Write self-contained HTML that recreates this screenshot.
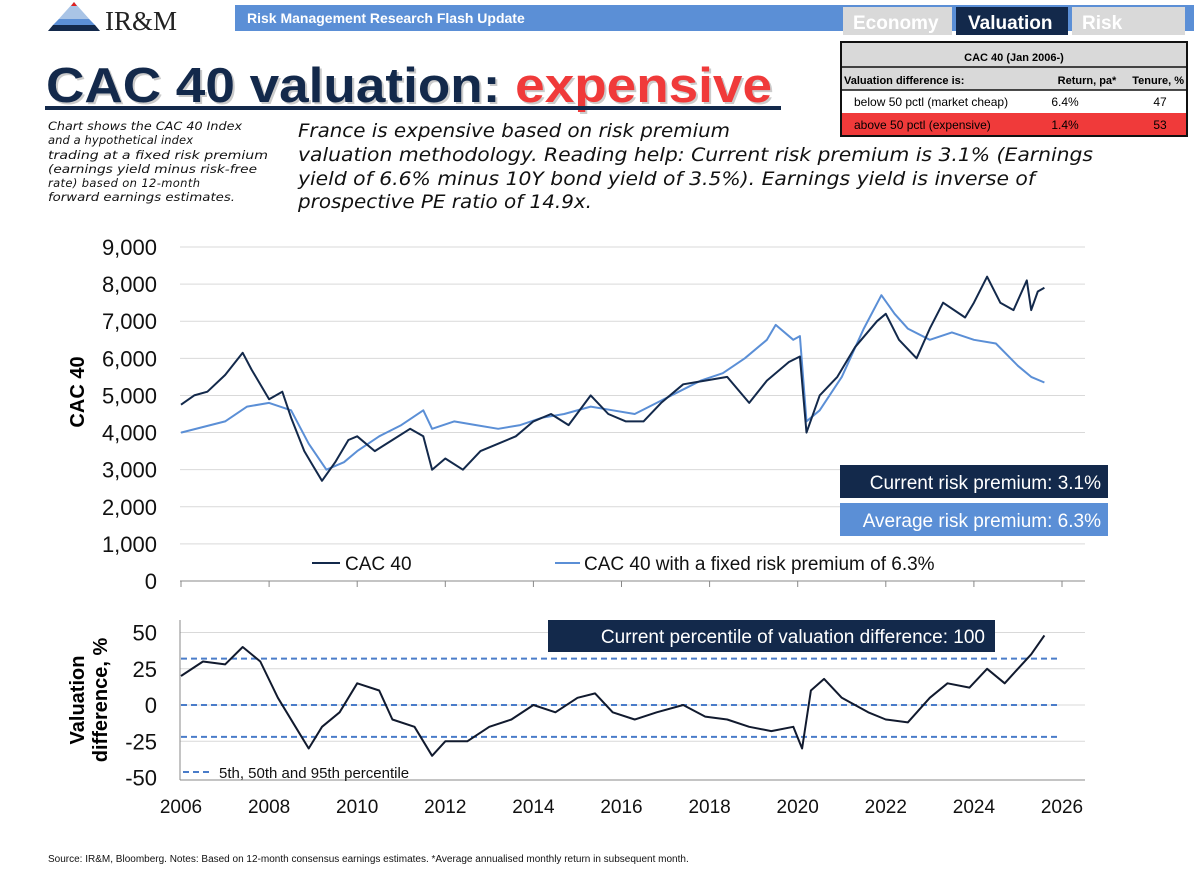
<!DOCTYPE html>
<html><head><meta charset="utf-8"><style>
html,body{margin:0;padding:0;background:#fff}
svg{display:block}
text{font-family:"Liberation Sans",sans-serif}
.hand{font-family:"DejaVu Sans",sans-serif}
</style></head><body>
<svg id="svg" width="1194" height="871" viewBox="0 0 1194 871" xmlns="http://www.w3.org/2000/svg">
<g>
<polygon points="48,31 74,2 100,31" fill="#a9c4e6"/>
<polygon points="71,6 74,2 77,6" fill="#e02020"/>
<polygon points="59,19 89,19 95,25 53,25" fill="#5b8fd6"/>
<polygon points="53,25 95,25 100,31 48,31" fill="#13294b"/>
<text x="105" y="30" style="font-family:'Liberation Serif',serif" font-size="27" fill="#222">IR&amp;M</text>
</g>
<rect x="235" y="5" width="959" height="26" fill="#5b8fd6"/>
<text x="247" y="23" font-size="14" font-weight="bold" fill="#fff">Risk Management Research Flash Update</text>
<rect x="843" y="7" width="109" height="28" fill="#d9d9d9"/>
<text x="853" y="29" font-size="19" font-weight="bold" fill="#fff">Economy</text>
<rect x="956" y="7" width="112" height="28" fill="#13294b"/>
<text x="968" y="29" font-size="19" font-weight="bold" fill="#fff">Valuation</text>
<rect x="1072" y="7" width="113" height="28" fill="#d9d9d9"/>
<text x="1082" y="29" font-size="19" font-weight="bold" fill="#fff">Risk</text>
<g>
<rect x="841" y="42" width="346" height="48" fill="#d9d9d9"/>
<rect x="841" y="90" width="346" height="23" fill="#fff"/>
<rect x="841" y="113" width="346" height="23" fill="#f03a3a"/>
<rect x="841" y="42" width="346" height="94" fill="none" stroke="#111" stroke-width="2"/>
<line x1="841" y1="67" x2="1187" y2="67" stroke="#111" stroke-width="1.5"/>
<line x1="841" y1="90" x2="1187" y2="90" stroke="#111" stroke-width="1.5"/>
<text x="1014" y="61" font-size="11" font-weight="bold" text-anchor="middle">CAC 40 (Jan 2006-)</text>
<text x="844" y="84" font-size="11" font-weight="bold">Valuation difference is:</text>
<text x="1087" y="84" font-size="11" font-weight="bold" text-anchor="middle">Return, pa*</text>
<text x="1184" y="84" font-size="11" font-weight="bold" text-anchor="end">Tenure, %</text>
<text x="854" y="106" font-size="12">below 50 pctl (market cheap)</text>
<text x="1065" y="106" font-size="12" text-anchor="middle">6.4%</text>
<text x="1160" y="106" font-size="12" text-anchor="middle">47</text>
<text x="854" y="129" font-size="12">above 50 pctl (expensive)</text>
<text x="1065" y="129" font-size="12" text-anchor="middle">1.4%</text>
<text x="1160" y="129" font-size="12" text-anchor="middle">53</text>
</g>
<text x="46" y="102" font-size="49" font-weight="bold" fill="#999" opacity="0.5" textLength="726" lengthAdjust="spacingAndGlyphs" transform="translate(2,2)">CAC 40 valuation: expensive</text>
<text x="46" y="102" font-size="49" font-weight="bold" textLength="726" lengthAdjust="spacingAndGlyphs"><tspan fill="#13294b">CAC 40 valuation: </tspan><tspan fill="#f03a3a">expensive</tspan></text>
<rect x="45" y="106" width="736" height="4" fill="#13294b"/>
<g font-size="11.5" fill="#111" font-style="italic">
<text class="hand" font-size="11.5" x="48" y="130" textLength="194" lengthAdjust="spacingAndGlyphs">Chart shows the CAC 40 Index</text>
<text class="hand" font-size="11.5" x="48" y="144" textLength="145" lengthAdjust="spacing">and a hypothetical index</text>
<text class="hand" font-size="11.5" x="48" y="159" textLength="220" lengthAdjust="spacingAndGlyphs">trading at a fixed risk premium</text>
<text class="hand" font-size="11.5" x="48" y="173" textLength="209" lengthAdjust="spacingAndGlyphs">(earnings yield minus risk-free</text>
<text class="hand" font-size="11.5" x="48" y="187" textLength="152" lengthAdjust="spacing">rate) based on 12-month</text>
<text class="hand" font-size="11.5" x="48" y="201" textLength="187" lengthAdjust="spacingAndGlyphs">forward earnings estimates.</text>
</g>
<g fill="#111" font-style="italic">
<text class="hand" x="298" y="137" font-size="19" textLength="432" lengthAdjust="spacingAndGlyphs">France is expensive based on risk premium</text>
<text class="hand" x="298" y="161" font-size="19" textLength="795" lengthAdjust="spacingAndGlyphs">valuation methodology. Reading help: Current risk premium is 3.1% (Earnings</text>
<text class="hand" x="298" y="185" font-size="19" textLength="737" lengthAdjust="spacingAndGlyphs">yield of 6.6% minus 10Y bond yield of 3.5%). Earnings yield is inverse of</text>
<text class="hand" x="298" y="208" font-size="19" textLength="294" lengthAdjust="spacingAndGlyphs">prospective PE ratio of 14.9x.</text>
</g>
<g id="topChart"></g>
<g id="botChart"></g>
<text x="48" y="862" font-size="10" fill="#111">Source: IR&amp;M, Bloomberg. Notes: Based on 12-month consensus earnings estimates. *Average annualised monthly return in subsequent month.</text>
</svg>
<script>
const cacDates=[2006.0,2006.3,2006.6,2007.0,2007.4,2007.6,2008.0,2008.3,2008.5,2008.8,2009.0,2009.2,2009.5,2009.8,2010.0,2010.4,2010.8,2011.2,2011.5,2011.7,2012.0,2012.4,2012.8,2013.2,2013.6,2014.0,2014.4,2014.8,2015.3,2015.7,2016.1,2016.5,2016.9,2017.4,2017.9,2018.4,2018.9,2019.3,2019.8,2020.05,2020.2,2020.5,2020.9,2021.3,2021.8,2022.0,2022.3,2022.7,2023.0,2023.3,2023.8,2024.0,2024.3,2024.6,2024.9,2025.2,2025.3,2025.45,2025.6];
const cacValues=[4750,5000,5100,5550,6150,5700,4900,5100,4400,3500,3100,2700,3200,3800,3900,3500,3800,4100,3900,3000,3300,3000,3500,3700,3900,4300,4500,4200,5000,4500,4300,4300,4800,5300,5400,5500,4800,5400,5900,6050,4000,5000,5500,6300,7000,7200,6500,6000,6800,7500,7100,7500,8200,7500,7300,8100,7300,7800,7900];
const fixDates=[2006.0,2007.0,2007.5,2008.0,2008.5,2008.9,2009.3,2009.7,2010.0,2010.5,2011.0,2011.5,2011.7,2012.2,2012.7,2013.2,2013.7,2014.2,2014.7,2015.3,2015.8,2016.3,2016.8,2017.3,2017.8,2018.3,2018.8,2019.3,2019.5,2019.9,2020.05,2020.2,2020.5,2021.0,2021.5,2021.9,2022.2,2022.5,2023.0,2023.5,2024.0,2024.5,2025.0,2025.3,2025.6];
const fixValues=[4000,4300,4700,4800,4600,3700,3000,3200,3500,3900,4200,4600,4100,4300,4200,4100,4200,4400,4500,4700,4600,4500,4800,5100,5400,5600,6000,6500,6900,6500,6600,4300,4600,5500,6800,7700,7200,6800,6500,6700,6500,6400,5800,5500,5350];
const diffDates=[2006.0,2006.5,2007.0,2007.4,2007.8,2008.2,2008.6,2008.9,2009.2,2009.6,2010.0,2010.5,2010.8,2011.3,2011.7,2012.0,2012.5,2013.0,2013.5,2014.0,2014.5,2015.0,2015.4,2015.8,2016.3,2016.8,2017.4,2017.9,2018.4,2018.9,2019.4,2019.9,2020.1,2020.3,2020.6,2021.0,2021.6,2022.0,2022.5,2023.0,2023.4,2023.9,2024.3,2024.7,2025.0,2025.3,2025.6];
const diffValues=[20,30,28,40,30,5,-15,-30,-15,-5,15,10,-10,-15,-35,-25,-25,-15,-10,0,-5,5,8,-5,-10,-5,0,-8,-10,-15,-18,-15,-30,10,18,5,-5,-10,-12,5,15,12,25,15,25,35,48];
const pctLines=[32,0,-22];
const topTicks=[0,1000,2000,3000,4000,5000,6000,7000,8000,9000];
const botTicks=[-50,-25,0,25,50];
const yearTicks=[2006,2008,2010,2012,2014,2016,2018,2020,2022,2024,2026];

const NS="http://www.w3.org/2000/svg";
const xS=y=>181+(y-2006)*44.05;
const yT=v=>581-v*(334/9000);
const yB=v=>705-v*1.45;
function mk(parent,tag,attrs,txt){const e=document.createElementNS(NS,tag);for(const k in attrs)e.setAttribute(k,attrs[k]);if(txt!==undefined)e.textContent=txt;parent.appendChild(e);return e;}
const gTop=document.getElementById('topChart'),gBot=document.getElementById('botChart');
let e;

topTicks.forEach(t=>{
 if(t>0){const g=mk(gTop,'line',{x1:180,x2:1085,y1:yT(t),y2:yT(t),stroke:'#d9d9d9','stroke-width':1});
 
 }
 const l=mk(gTop,'text',{x:157,y:yT(t)+8,'font-size':22,'text-anchor':'end',fill:'#111'},t.toLocaleString('en-US'));
 
 
});
e=mk(gTop,'line',{x1:180,x2:1085,y1:581,y2:581,stroke:'#888','stroke-width':1});


yearTicks.forEach(y=>{const t=mk(gTop,'line',{x1:xS(y),x2:xS(y),y1:581,y2:587,stroke:'#888'});

});
e=mk(gTop,'text',{x:0,y:0,'font-size':20,'font-weight':'bold','text-anchor':'middle',transform:'translate(84,392) rotate(-90)'},'CAC 40');



function path(parent,dates,vals,ys,color,name){
 const d=dates.map((x,i)=>(i?'L':'M')+xS(x).toFixed(1)+','+ys(vals[i]).toFixed(1)).join('');
 const p=mk(parent,'path',{d:d,fill:'none',stroke:color,'stroke-width':2,'stroke-linejoin':'round'});
 
 
}
path(gTop,fixDates,fixValues,yT,'#5b8fd6','fixed-risk-premium-line');
path(gTop,cacDates,cacValues,yT,'#13294b','cac40-line');

e=mk(gTop,'line',{x1:312,x2:340,y1:563,y2:563,stroke:'#13294b','stroke-width':2});


e=mk(gTop,'text',{x:345,y:570,'font-size':19,fill:'#111'},'CAC 40');


e=mk(gTop,'line',{x1:555,x2:580,y1:563,y2:563,stroke:'#5b8fd6','stroke-width':2});


e=mk(gTop,'text',{x:584,y:570,'font-size':19,fill:'#111'},'CAC 40 with a fixed risk premium of 6.3%');


e=mk(gTop,'rect',{x:840,y:465,width:268,height:33,fill:'#13294b'});


mk(gTop,'text',{x:1101,y:489,'font-size':19,fill:'#fff','text-anchor':'end'},'Current risk premium: 3.1%');
e=mk(gTop,'rect',{x:840,y:503,width:268,height:33,fill:'#5b8fd6'});


mk(gTop,'text',{x:1101,y:527,'font-size':19,fill:'#fff','text-anchor':'end'},'Average risk premium: 6.3%');

botTicks.forEach(t=>{
 if(t!==-50){const g=mk(gBot,'line',{x1:180,x2:1085,y1:yB(t),y2:yB(t),stroke:'#d9d9d9','stroke-width':1});
 
 }
 const l=mk(gBot,'text',{x:157,y:yB(t)+8,'font-size':22,'text-anchor':'end',fill:'#111'},String(t));
 
 
});
e=mk(gBot,'line',{x1:180,x2:180,y1:620,y2:780,stroke:'#888'});


e=mk(gBot,'line',{x1:180,x2:1085,y1:780,y2:780,stroke:'#888'});


yearTicks.forEach(y=>{
 const l=mk(gBot,'text',{x:xS(y),y:813,'font-size':19,'text-anchor':'middle',fill:'#111'},String(y));
 
 
});
pctLines.forEach(v=>{
 const l=mk(gBot,'line',{x1:181,x2:1058,y1:yB(v),y2:yB(v),stroke:'#4a7cc9','stroke-width':2,'stroke-dasharray':'6,4'});
 
 
});
path(gBot,diffDates,diffValues,yB,'#111a2e','valuation-difference-line');
e=mk(gBot,'text',{x:0,y:0,'font-size':20,'font-weight':'bold','text-anchor':'middle',transform:'translate(84,700) rotate(-90)'},'Valuation');


mk(gBot,'text',{x:0,y:0,'font-size':20,'font-weight':'bold','text-anchor':'middle',transform:'translate(107,700) rotate(-90)'},'difference, %');
e=mk(gBot,'rect',{x:548,y:620,width:447,height:32,fill:'#13294b'});


mk(gBot,'text',{x:985,y:643,'font-size':19,fill:'#fff','text-anchor':'end'},'Current percentile of valuation difference: 100');
e=mk(gBot,'line',{x1:183,x2:213,y1:772,y2:772,stroke:'#4a7cc9','stroke-width':2,'stroke-dasharray':'6,4'});


e=mk(gBot,'text',{x:219,y:778,'font-size':15,fill:'#111'},'5th, 50th and 95th percentile');


</script>
</body></html>
